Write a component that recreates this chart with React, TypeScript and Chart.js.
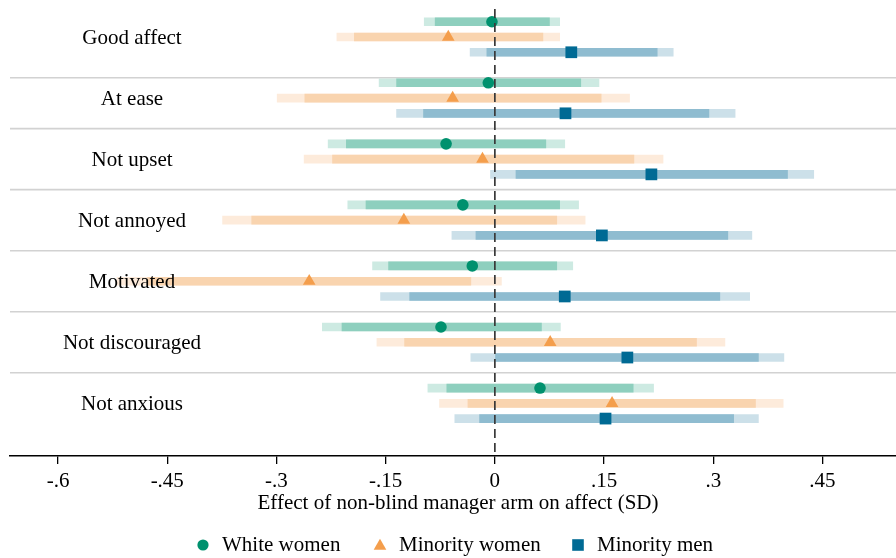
import { useEffect, useRef } from 'react';
import { Chart, registerables } from 'chart.js';

Chart.register(...registerables);

// Outcome rows, top to bottom
const categories = [
  'Good affect',
  'At ease',
  'Not upset',
  'Not annoyed',
  'Motivated',
  'Not discouraged',
  'Not anxious',
];

// White women: point estimate, inner (90%) and outer (95%) intervals
const whiteEst = [-0.004, -0.009, -0.067, -0.044, -0.031, -0.074, 0.062];
const whiteLo90 = [-0.082, -0.135, -0.204, -0.177, -0.146, -0.210, -0.066];
const whiteHi90 = [0.075, 0.118, 0.070, 0.089, 0.085, 0.064, 0.190];
const whiteLo95 = [-0.097, -0.159, -0.229, -0.202, -0.168, -0.237, -0.092];
const whiteHi95 = [0.089, 0.143, 0.096, 0.115, 0.107, 0.090, 0.218];

// Minority women
const minWomenEst = [-0.064, -0.058, -0.017, -0.125, -0.255, 0.076, 0.161];
const minWomenLo90 = [-0.193, -0.261, -0.223, -0.334, -0.477, -0.124, -0.037];
const minWomenHi90 = [0.066, 0.146, 0.191, 0.085, -0.033, 0.277, 0.358];
const minWomenLo95 = [-0.217, -0.299, -0.262, -0.374, -0.519, -0.162, -0.076];
const minWomenHi95 = [0.089, 0.185, 0.231, 0.124, 0.009, 0.316, 0.396];

// Minority men
const minMenEst = [0.105, 0.097, 0.215, 0.147, 0.096, 0.182, 0.152];
const minMenLo90 = [-0.011, -0.098, 0.029, -0.026, -0.117, 0.0, -0.021];
const minMenHi90 = [0.223, 0.294, 0.402, 0.32, 0.309, 0.362, 0.328];
const minMenLo95 = [-0.034, -0.135, -0.006, -0.059, -0.157, -0.033, -0.055];
const minMenHi95 = [0.245, 0.33, 0.438, 0.353, 0.35, 0.397, 0.362];

const seriesNames = ['White women', 'Minority women', 'Minority men'];

const xTicks = [-0.6, -0.45, -0.3, -0.15, 0, 0.15, 0.3, 0.45];
const xTickLabels = ['-.6', '-.45', '-.3', '-.15', '0', '.15', '.3', '.45'];

const axisTitle = 'Effect of non-blind manager arm on affect (SD)';

const SERIF = "'Liberation Serif', 'Times New Roman', Times, serif";
const FONT_SIZE = 21;

const series = [
  {
    name: seriesNames[0],
    est: whiteEst, lo90: whiteLo90, hi90: whiteHi90, lo95: whiteLo95, hi95: whiteHi95,
    offset: -0.25,
    color: '#00916e', dark: '#8ecfbe', light: '#cdeae2',
    pointStyle: 'circle', radius: 5.8,
  },
  {
    name: seriesNames[1],
    est: minWomenEst, lo90: minWomenLo90, hi90: minWomenHi90, lo95: minWomenLo95, hi95: minWomenHi95,
    offset: 0,
    color: '#f49e4c', dark: '#f9d4af', light: '#fdebdb',
    pointStyle: 'triangle', radius: 7.3,
  },
  {
    name: seriesNames[2],
    est: minMenEst, lo90: minMenLo90, hi90: minMenHi90, lo95: minMenLo95, hi95: minMenHi95,
    offset: 0.25,
    color: '#006a94', dark: '#8fbcd0', light: '#cce0e9',
    pointStyle: 'rect', radius: 8.3,
  },
];

// Group dividers (in row units on the y scale)
const dividers = [0.667, 1.5, 2.5, 3.5, 4.5, 5.5];

const decorPlugin = {
  id: 'coefDecor',
  beforeDatasetsDraw(chart: any) {
    const { ctx, chartArea, scales } = chart;
    const y = scales.y;
    ctx.save();
    ctx.strokeStyle = '#d2d2d2';
    ctx.lineWidth = 1.6;
    dividers.forEach((d) => {
      const py = y.getPixelForValue(d);
      ctx.beginPath();
      ctx.moveTo(chartArea.left, py);
      ctx.lineTo(chartArea.right, py);
      ctx.stroke();
    });
    ctx.restore();
  },
  afterDatasetsDraw(chart: any) {
    const { ctx, chartArea, scales } = chart;
    const x = scales.x;
    const y = scales.y;
    ctx.save();
    // zero reference line
    const x0 = x.getPixelForValue(0);
    ctx.strokeStyle = '#3a3a3a';
    ctx.lineWidth = 1.7;
    ctx.setLineDash([9, 5]);
    ctx.beginPath();
    ctx.moveTo(x0, chartArea.top);
    ctx.lineTo(x0, chartArea.bottom);
    ctx.stroke();
    ctx.setLineDash([]);

    // row labels
    ctx.fillStyle = '#000';
    ctx.font = `${FONT_SIZE}px ${SERIF}`;
    ctx.textAlign = 'center';
    ctx.textBaseline = 'middle';
    categories.forEach((c, i) => {
      ctx.fillText(c, 132, y.getPixelForValue(i) + 1.5);
    });
    ctx.restore();
  },
  afterDraw(chart: any) {
    const { ctx } = chart;
    ctx.save();
    ctx.fillStyle = '#000';
    ctx.font = `${FONT_SIZE}px ${SERIF}`;
    ctx.textBaseline = 'middle';
    ctx.textAlign = 'center';
    ctx.fillText(axisTitle, 458, 503);

    // legend
    const legendY = 545;
    const markerX = [203, 380, 578];
    series.forEach((s, k) => {
      const mx = markerX[k];
      ctx.fillStyle = s.color;
      ctx.beginPath();
      if (s.pointStyle === 'circle') {
        ctx.arc(mx, legendY, 5.6, 0, Math.PI * 2);
      } else if (s.pointStyle === 'triangle') {
        const r = 7.3;
        ctx.moveTo(mx, legendY + 1 - r);
        ctx.lineTo(mx + r * 0.866, legendY + 1 + r / 2);
        ctx.lineTo(mx - r * 0.866, legendY + 1 + r / 2);
        ctx.closePath();
      } else {
        ctx.rect(mx - 5.8, legendY - 5.8, 11.6, 11.6);
      }
      ctx.fill();
      ctx.fillStyle = '#000';
      ctx.textAlign = 'left';
      ctx.fillText(s.name, mx + 19, legendY);
    });
    ctx.restore();
  },
};

export default function App() {
  const canvasRef = useRef<HTMLCanvasElement | null>(null);

  useEffect(() => {
    const canvas = canvasRef.current;
    if (!canvas) return;

    const datasets: any[] = [];
    series.forEach((s) => {
      datasets.push({
        type: 'bar',
        label: s.name + ' 95%',
        data: categories.map((_, i) => ({ x: [s.lo95[i], s.hi95[i]], y: i + s.offset })),
        backgroundColor: s.light,
        borderWidth: 0,
        grouped: false,
        maxBarThickness: 8,
        barPercentage: 1,
        categoryPercentage: 1,
        order: 3,
      });
      datasets.push({
        type: 'bar',
        label: s.name + ' 90%',
        data: categories.map((_, i) => ({ x: [s.lo90[i], s.hi90[i]], y: i + s.offset })),
        backgroundColor: s.dark,
        borderWidth: 0,
        grouped: false,
        maxBarThickness: 8,
        barPercentage: 1,
        categoryPercentage: 1,
        order: 2,
      });
      datasets.push({
        type: 'scatter',
        label: s.name,
        data: categories.map((_, i) => ({ x: s.est[i], y: i + s.offset })),
        pointStyle: s.pointStyle,
        pointRadius: s.radius,
        backgroundColor: s.color,
        borderWidth: 0,
        order: 1,
      });
    });

    const chart = new Chart(canvas, {
      type: 'bar',
      data: { datasets },
      options: {
        indexAxis: 'y',
        animation: false,
        responsive: false,
        events: [],
        layout: { autoPadding: false, padding: { left: 10, right: 0, top: 9, bottom: 66 } },
        plugins: {
          legend: { display: false },
          tooltip: { enabled: false },
        },
        scales: {
          x: {
            type: 'linear',
            min: -0.666,
            max: 0.551,
            afterBuildTicks: (axis: any) => {
              axis.ticks = xTicks.map((v) => ({ value: v }));
            },
            afterFit: (axis: any) => {
              axis.height = 36;
            },
            ticks: {
              autoSkip: false,
              maxRotation: 0,
              padding: 5,
              color: '#000',
              font: { family: SERIF, size: FONT_SIZE },
              callback: (_v: any, idx: number) => xTickLabels[idx],
            },
            grid: {
              display: true,
              drawOnChartArea: false,
              drawTicks: true,
              tickLength: 8,
              color: '#000',
              lineWidth: 1.3,
            },
            border: { display: true, color: '#000', width: 1.5 },
          },
          y: {
            type: 'linear',
            display: false,
            reverse: true,
            offset: false,
            min: -0.4586,
            max: 6.863,
            grid: { display: false },
          },
        },
      },
      plugins: [decorPlugin],
    } as any);

    return () => chart.destroy();
  }, []);

  return (
    <div
      style={{
        position: 'fixed',
        left: 0,
        top: 0,
        width: 896,
        height: 558,
        background: '#fff',
      }}
    >
      <canvas ref={canvasRef} width={896} height={558} style={{ display: 'block' }} />
    </div>
  );
}
